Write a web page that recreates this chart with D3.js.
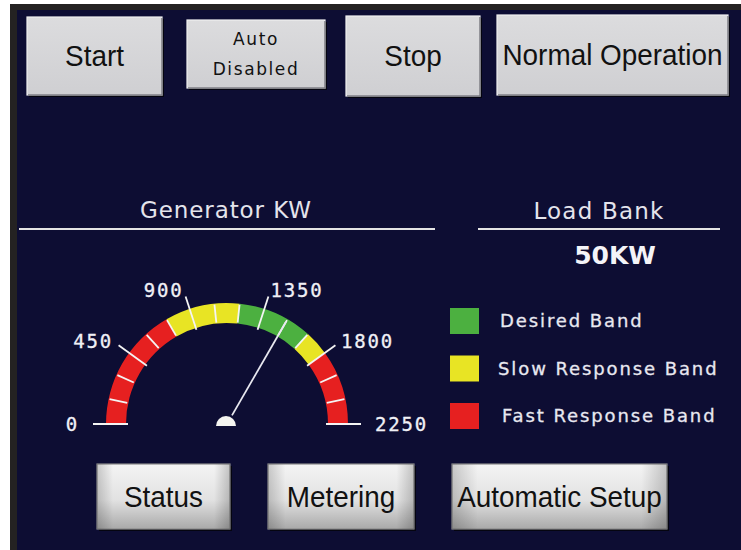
<!DOCTYPE html>
<html>
<head>
<meta charset="utf-8">
<script src="https://cdn.jsdelivr.net/npm/d3@7"></script>
<style>
  html, body { margin: 0; padding: 0; background: #ffffff; }
  svg { display: block; }
</style>
</head>
<body>
<svg id="panel" width="741" height="550"></svg>
<script>
// gauge data
const gaugeDomain = [0, 2250];
const majorTicks = [0, 450, 900, 1350, 1800, 2250];
const minorTicks = [150, 300, 600, 750, 1050, 1200, 1500, 1650, 1950, 2100];
const bandStarts = [0, 750, 1200, 1650, 1800];
const bandEnds = [750, 1200, 1650, 1800, 2250];
const bandKinds = ["fast", "slow", "desired", "slow", "fast"];
const needleValue = 1500;

// legend
const legendKinds = ["desired", "slow", "fast"];
const legendLabels = ["Desired Band", "Slow Response Band", "Fast Response Band"];

// buttons and headings
const topButtons = ["Start", "Auto|Disabled", "Stop", "Normal Operation"];
const bottomButtons = ["Status", "Metering", "Automatic Setup"];
const gaugeTitle = "Generator KW";
const loadTitle = "Load Bank";
const loadValue = "50KW";

const bandColor = d3.scaleOrdinal()
    .domain(["desired", "slow", "fast"])
    .range(["#4cb040", "#e8e424", "#e62020"]);

const svg = d3.select('#panel');
const defs = svg.append('defs');

// background + frame
svg.append('rect').attr('x', 10).attr('y', 4).attr('width', 731).attr('height', 546).attr('fill', '#242222');
svg.append('rect').attr('x', 17).attr('y', 10).attr('width', 724).attr('height', 540).attr('fill', '#0d0d33');

// ---- buttons
let flatGrad = defs.append('linearGradient').attr('id', 'flatGrad').attr('x1', 0).attr('x2', 0).attr('y1', 0).attr('y2', 1);
flatGrad.append('stop').attr('offset', '0%').attr('stop-color', '#dcdcde');
flatGrad.append('stop').attr('offset', '100%').attr('stop-color', '#cfcfd2');

let shinyGrad = defs.append('linearGradient').attr('id', 'shinyGrad').attr('x1', 0).attr('x2', 0).attr('y1', 0).attr('y2', 1);
shinyGrad.append('stop').attr('offset', '0%').attr('stop-color', '#f4f4f4');
shinyGrad.append('stop').attr('offset', '55%').attr('stop-color', '#e2e2e2');
shinyGrad.append('stop').attr('offset', '100%').attr('stop-color', '#a9a9a9');

let sideGrad = defs.append('linearGradient').attr('id', 'sideGrad').attr('x1', 0).attr('x2', 1).attr('y1', 0).attr('y2', 0);
sideGrad.append('stop').attr('offset', '0%').attr('stop-color', '#000').attr('stop-opacity', 0.18);
sideGrad.append('stop').attr('offset', '12%').attr('stop-color', '#000').attr('stop-opacity', 0);
sideGrad.append('stop').attr('offset', '88%').attr('stop-color', '#000').attr('stop-opacity', 0);
sideGrad.append('stop').attr('offset', '100%').attr('stop-color', '#000').attr('stop-opacity', 0.2);

const topBoxes = [
    {x: 27, y: 17, w: 135, h: 78},
    {x: 187, y: 20, w: 138, h: 68},
    {x: 346, y: 16, w: 134, h: 80},
    {x: 497, y: 15, w: 231, h: 80}
];
const bottomBoxes = [
    {x: 97, y: 464, w: 133, h: 65},
    {x: 268, y: 464, w: 146, h: 65},
    {x: 452, y: 464, w: 215, h: 65}
];

function drawButton(box, label, shiny) {
    let g = svg.append('g').attr('transform', `translate(${box.x},${box.y})`);
    // shadow on bottom/right
    g.append('rect').attr('x', 2).attr('y', 2).attr('width', box.w).attr('height', box.h).attr('fill', '#050510');
    g.append('rect').attr('width', box.w).attr('height', box.h)
        .attr('fill', shiny ? 'url(#shinyGrad)' : 'url(#flatGrad)')
        .attr('stroke', shiny ? '#8a8a8a' : '#f0f0f0').attr('stroke-width', 1.2);
    if (shiny) {
        g.append('rect').attr('width', box.w).attr('height', box.h).attr('fill', 'url(#sideGrad)');
    } else {
        g.append('path').attr('d', `M${box.w},1 V${box.h} H1`).attr('fill', 'none').attr('stroke', '#7a7a80').attr('stroke-width', 1.5);
    }
    let parts = label.split('|');
    if (parts.length == 1) {
        // narrow, tall lettering
        g.append('text')
            .attr('transform', `translate(${box.w / 2},${box.h / 2 + 10}) scale(0.93,1)`)
            .attr('text-anchor', 'middle')
            .style('font-family', '"Liberation Sans", Arial, sans-serif')
            .style('font-size', '30px')
            .attr('fill', '#111')
            .text(label);
    } else {
        parts.forEach((p, i) => {
            g.append('text')
                .attr('x', box.w / 2).attr('y', box.h / 2 - 9 + i * 30)
                .attr('text-anchor', 'middle')
                .style('font-family', '"DejaVu Sans", sans-serif')
                .style('font-size', '17px')
                .style('letter-spacing', '1.6px')
                .attr('fill', '#111')
                .text(p);
        });
    }
}

topButtons.forEach((b, i) => drawButton(topBoxes[i], b, false));
bottomButtons.forEach((b, i) => drawButton(bottomBoxes[i], b, true));

// ---- headings
svg.append('text').attr('x', 226).attr('y', 218).attr('text-anchor', 'middle')
    .style('font-family', '"DejaVu Sans", sans-serif').style('font-size', '23px').style('letter-spacing', '0.9px')
    .attr('fill', '#e4e4ec').text(gaugeTitle);
svg.append('line').attr('x1', 19).attr('x2', 435).attr('y1', 229).attr('y2', 229)
    .attr('stroke', '#e4e4e4').attr('stroke-width', 2.2);

svg.append('text').attr('x', 599).attr('y', 219).attr('text-anchor', 'middle')
    .style('font-family', '"DejaVu Sans", sans-serif').style('font-size', '23px').style('letter-spacing', '1.2px')
    .attr('fill', '#e4e4ec').text(loadTitle);
svg.append('line').attr('x1', 478).attr('x2', 720).attr('y1', 229).attr('y2', 229)
    .attr('stroke', '#e4e4e4').attr('stroke-width', 2.2);
svg.append('text').attr('x', 615).attr('y', 264).attr('text-anchor', 'middle')
    .style('font-family', '"DejaVu Sans", sans-serif').style('font-size', '25px').style('font-weight', 'bold')
    .attr('fill', '#f4f4f8').text(loadValue);

// ---- gauge
const cx = 227, cy = 424;
const innerR = 101, outerR = 121;
const angle = d3.scaleLinear().domain(gaugeDomain).range([-Math.PI / 2, Math.PI / 2]);
const px = (v, r) => cx + r * Math.sin(angle(v));
const py = (v, r) => cy - r * Math.cos(angle(v));

const gauge = svg.append('g');
const arc = d3.arc().innerRadius(innerR).outerRadius(outerR);

gauge.selectAll('path.band')
    .data(bandStarts.map((s, i) => ({start: s, end: bandEnds[i], kind: bandKinds[i]})))
    .join('path')
    .attr('class', 'band')
    .attr('transform', `translate(${cx},${cy})`)
    .attr('d', d => arc({startAngle: angle(d.start), endAngle: angle(d.end)}))
    .attr('fill', d => bandColor(d.kind));

gauge.selectAll('line.minor')
    .data(minorTicks)
    .join('line')
    .attr('class', 'minor')
    .attr('x1', d => px(d, innerR + 1)).attr('y1', d => py(d, innerR + 1))
    .attr('x2', d => px(d, outerR - 1)).attr('y2', d => py(d, outerR - 1))
    .attr('stroke', '#f4f4f4').attr('stroke-width', 1.8);

gauge.selectAll('line.major')
    .data(majorTicks)
    .join('line')
    .attr('class', 'major')
    .attr('x1', d => px(d, 99)).attr('y1', d => py(d, 99))
    .attr('x2', d => px(d, 134)).attr('y2', d => py(d, 134))
    .attr('stroke', '#f4f4f4').attr('stroke-width', 1.8);

gauge.selectAll('text.tick')
    .data(majorTicks)
    .join('text')
    .attr('class', 'tick')
    .attr('x', d => px(d, d == 0 || d == 2250 ? 148 : 141))
    .attr('y', d => py(d, 141))
    .attr('dy', '0.36em')
    .attr('text-anchor', d => d < 1125 ? 'end' : 'start')
    .style('font-family', '"DejaVu Sans Mono", monospace')
    .style('font-size', '19px')
    .style('letter-spacing', '1.8px')
    .attr('fill', '#f0f0f6')
    .attr('stroke', '#f0f0f6').attr('stroke-width', 0.3)
    .text(d => d);

// needle
gauge.append('line')
    .attr('x1', px(needleValue, 10)).attr('y1', py(needleValue, 10))
    .attr('x2', px(needleValue, 118)).attr('y2', py(needleValue, 118))
    .attr('stroke', '#e8e8f0').attr('stroke-width', 1.8);
gauge.append('path')
    .attr('transform', `translate(${cx - 1},${cy + 2})`)
    .attr('d', d3.arc().innerRadius(0).outerRadius(10)({startAngle: -Math.PI / 2, endAngle: Math.PI / 2}))
    .attr('fill', '#f4f4f0');

// ---- legend
const legend = svg.append('g');
const legendY = d3.scalePoint().domain(legendKinds).range([321, 416]);
legend.selectAll('rect')
    .data(legendKinds)
    .join('rect')
    .attr('x', 450).attr('y', d => legendY(d) - 13)
    .attr('width', 29).attr('height', 26)
    .attr('fill', d => bandColor(d));
legend.selectAll('text')
    .data(legendKinds)
    .join('text')
    .attr('x', (d, i) => i == 1 ? 498 : (i == 0 ? 500 : 502))
    .attr('y', d => legendY(d))
    .attr('dy', '0.36em')
    .style('font-family', '"DejaVu Sans", sans-serif')
    .style('font-size', '18px')
    .style('letter-spacing', '1.9px')
    .attr('fill', '#e8e8f0')
    .attr('stroke', '#e8e8f0').attr('stroke-width', 0.3)
    .text((d, i) => legendLabels[i]);
</script>
</body>
</html>
